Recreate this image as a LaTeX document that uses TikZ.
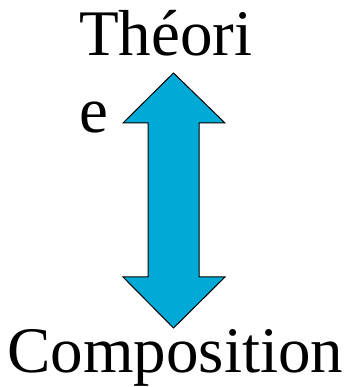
\documentclass[tikz,border=0pt]{standalone}
\usepackage{fontspec}
\setmainfont{Liberation Serif}
\usetikzlibrary{positioning}
\definecolor{arrowblue}{RGB}{0,169,214}

\begin{document}
\begin{tikzpicture}[x=1pt, y=1pt, font=\fontsize{65}{77}\selectfont]
    \tikzstyle{label}=[inner sep=0pt, align=left]
    \tikzstyle{blockarrow}=[draw=black, fill=arrowblue, line width=1pt, line join=miter]
    \useasboundingbox (0,0) rectangle (354,387);

    \node[label, anchor=base west] (theorie) at (79,254) {Théori\\e};
    \node[label, anchor=base] (composition) at (175.5,14) {Composition};

    % double block arrow between the two words
    \coordinate (tiptop) at (173.5,314);
    \coordinate (tipbottom) at (173.5,59);
    \draw[blockarrow] (tiptop) -- (225,264) -- (199,264) -- (199,110) -- (225,110)
        -- (tipbottom) -- (123,110) -- (148,110) -- (148,264) -- (123,264) -- cycle;
\end{tikzpicture}
\end{document}
